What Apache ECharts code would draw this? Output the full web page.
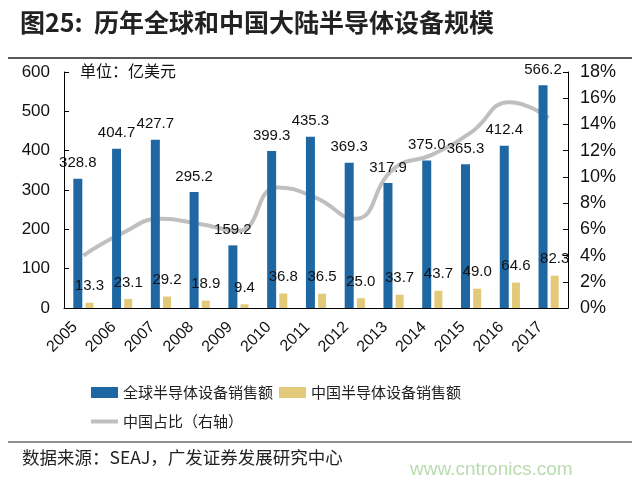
<!DOCTYPE html>
<html><head><meta charset="utf-8">
<script src="https://cdn.jsdelivr.net/npm/echarts@6/dist/echarts.min.js"></script>
<style>html,body{margin:0;padding:0;background:#fff}#c{width:640px;height:487px}</style>
</head><body><div id="c"></div>
<script>
const years = ['2005','2006','2007','2008','2009','2010','2011','2012','2013','2014','2015','2016','2017'];
const globalSales = [328.8,404.7,427.7,295.2,159.2,399.3,435.3,369.3,317.9,375.0,365.3,412.4,566.2];
const chinaSales = [13.3,23.1,29.2,18.9,9.4,36.8,36.5,25.0,33.7,43.7,49.0,64.6,82.3];
const chinaShare = [4.0,5.7,6.8,6.4,5.9,9.2,8.4,6.8,10.6,11.7,13.4,15.7,14.5];
const leftTicks = [0,100,200,300,400,500,600];
const rightTicks = [0,2,4,6,8,10,12,14,16,18];

const cjk = '"Noto Sans CJK SC", sans-serif';
const lat = '"Liberation Sans", Arial, sans-serif';
const chart = echarts.init(document.getElementById('c'));
chart.setOption({
  animation:false,
  backgroundColor:'#fff',
  grid:{left:64,right:72,top:72,bottom:179,containLabel:false},
  legend:[
    {left:86,top:380,itemWidth:27,itemHeight:11,itemGap:6,icon:'rect',
     textStyle:{fontFamily:cjk,fontSize:15,color:'#222'},data:['全球半导体设备销售额','中国半导体设备销售额']},
    {left:86,top:409,itemWidth:27,itemHeight:4,icon:'rect',
     textStyle:{fontFamily:cjk,fontSize:15,color:'#222'},data:['中国占比（右轴）']}
  ],
  xAxis:{type:'category',data:years,
    axisLine:{lineStyle:{color:'#000',width:1}},axisTick:{show:false},
    axisLabel:{rotate:45,fontFamily:lat,fontSize:16,color:'#111',margin:8,interval:0,padding:[0,12,0,0]}},
  yAxis:[
    {type:'value',min:0,max:600,interval:100,
     axisLine:{show:true,lineStyle:{color:'#000'}},axisTick:{show:true,inside:true,length:5,lineStyle:{color:'#000'}},
     splitLine:{show:false},
     axisLabel:{fontFamily:lat,fontSize:17,color:'#111',margin:14}},
    {type:'value',min:0,max:18,interval:2,
     axisLine:{show:true,lineStyle:{color:'#000'}},axisTick:{show:true,inside:true,length:5,lineStyle:{color:'#000'}},
     splitLine:{show:false},
     axisLabel:{fontFamily:lat,fontSize:18,color:'#111',margin:12,formatter:v=>v+'%'}}
  ],
  series:[
    {name:'全球半导体设备销售额',type:'bar',data:globalSales,barWidth:9,barGap:'35%',
     itemStyle:{color:'#1f67a3'},
     label:{show:true,position:'top',distance:8,fontFamily:lat,fontSize:15,color:'#111',formatter:p=>p.value.toFixed(1)}},
    {name:'中国半导体设备销售额',type:'bar',data:chinaSales,barWidth:8,
     itemStyle:{color:'#e3c97a'},
     label:{show:true,position:'top',distance:9,fontFamily:lat,fontSize:15,color:'#111',formatter:p=>p.value.toFixed(1)}},
    {name:'中国占比（右轴）',type:'line',yAxisIndex:1,data:chinaShare,smooth:0.5,symbol:'none',
     lineStyle:{color:'#bfbfbf',width:4},itemStyle:{color:'#bfbfbf'},z:1}
  ],
  graphic:[
    {type:'text',left:20,top:10,style:{text:'图25:  历年全球和中国大陆半导体设备规模',fontFamily:cjk,fontSize:25,fontWeight:'bold',fill:'#222'}},
    {type:'line',shape:{x1:8,y1:58,x2:632,y2:58},style:{stroke:'#222',lineWidth:1.5}},
    {type:'text',left:80,top:63,style:{text:'单位：亿美元',fontFamily:cjk,fontSize:16,fill:'#111'}},
    {type:'line',shape:{x1:8,y1:442,x2:632,y2:442},style:{stroke:'#222',lineWidth:1.2}},
    {type:'text',left:22,top:449,style:{text:'数据来源：SEAJ，广发证券发展研究中心',fontFamily:cjk,fontSize:17.5,fill:'#222'}},
    {type:'text',left:410,top:460,style:{text:'www.cntronics.com',fontFamily:lat,fontSize:19,fill:'#b8dcb0'}}
  ]
});
</script></body></html>
